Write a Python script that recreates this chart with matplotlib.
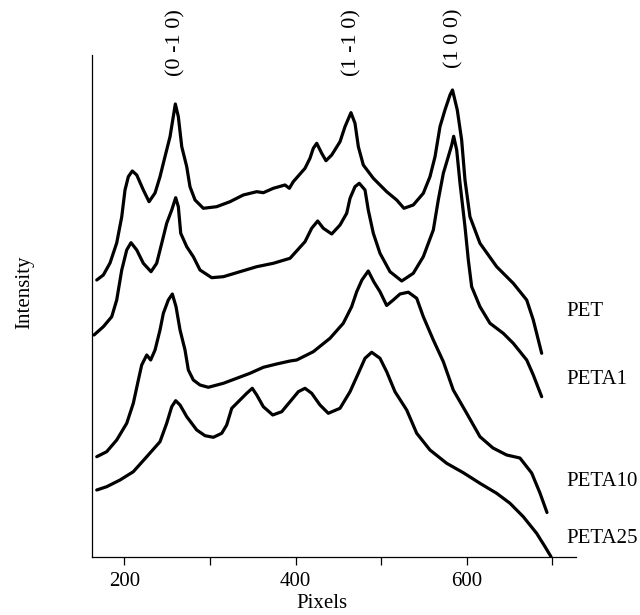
import matplotlib
matplotlib.use("Agg")
import matplotlib.pyplot as plt

plt.rcParams['font.family'] = ['Liberation Serif', 'DejaVu Serif']

# ---- data (x in pixels, y intensity, arbitrary units) ----
pet_x = [167.8, 175.5, 183.3, 191.1, 197.0, 200.8, 204.7, 209.3, 214.5, 222.2, 228.9, 235.9,
         241.7, 247.5, 253.4, 257.2, 259.6, 263.1, 267.1, 272.9, 276.7, 282.6, 292.3, 307.9,
         323.5, 339.0, 354.7, 362.4, 374.1, 387.7, 392.8, 397.4, 411.1, 416.9, 420.8, 424.8,
         430.6, 435.6, 442.3, 452.0, 457.8, 464.8, 469.5, 473.4, 479.2, 490.9, 506.5, 518.2,
         526.7, 537.6, 549.3, 557.1, 563.0, 568.8, 574.6, 580.5, 583.4, 589.0, 594.1, 598.0,
         603.8, 615.5, 635.0, 654.4, 670.1, 677.8, 687.6]
pet_y = [276.7, 281.7, 293.7, 313.7, 340, 366.7, 380, 385.7, 381.7, 366.7, 355, 363.7,
         380, 400, 420, 440, 452.7, 440, 410, 390, 370, 356.7, 348.4, 350,
         355, 361.7, 365, 364, 368.4, 371.7, 368.4, 375, 388.4, 398.4, 408.4, 413.4,
         403.4, 396, 401.7, 415, 430, 444, 433.4, 410, 391.7, 378.4, 365, 356.7,
         348.4, 351.7, 363.4, 380, 400, 430, 446.7, 461.7, 466.7, 446.7, 416.7, 376.7,
         340, 313.4, 290, 273.4, 256.7, 236.7, 203.4]

peta1_x = [164.6, 175.5, 185.3, 191.1, 197.0, 202.8, 207.8, 214.5, 222.2, 231.2, 237.8, 243.7,
           249.5, 255.4, 260.0, 263.1, 265.9, 272.9, 280.6, 288.4, 302.1, 315.7, 335.2, 354.7,
           374.1, 393.6, 411.1, 418.9, 425.9, 432.5, 442.3, 452.0, 459.8, 463.7, 469.5, 474.5,
           481.2, 485.0, 490.9, 498.7, 510.4, 524.1, 537.6, 549.3, 561.0, 566.8, 572.7, 578.5,
           582.5, 584.8, 588.3, 592.2, 598.0, 601.9, 605.8, 615.5, 627.2, 642.7, 654.4, 670.1,
           677.8, 687.6]
peta1_y = [221.7, 230, 240, 256.7, 286.7, 306.7, 314, 306.7, 293.4, 285, 293.4, 313.4,
           333.4, 346.7, 359, 350, 323.4, 310, 300, 286.7, 279, 280, 285, 290,
           293.4, 298.4, 315, 328.4, 335.7, 328.4, 322.7, 331.7, 343.4, 358.4, 370, 373.4,
           366.7, 346.7, 323.4, 303.4, 285, 275.7, 283.4, 300, 326.7, 356.7, 383.4, 400,
           411.7, 420.4, 406.7, 373.4, 330, 296.7, 270, 250, 233.4, 223.4, 213.4, 196.7,
           181.7, 160]

peta10_x = [167.8, 179.4, 191.1, 202.8, 210.5, 216.4, 220.3, 226.2, 230.8, 235.9, 241.7, 245.6,
            251.4, 256.1, 260.4, 265.1, 270.9, 274.8, 280.6, 288.4, 298.1, 315.7, 331.3, 346.8,
            362.4, 378.0, 393.6, 401.4, 420.8, 440.3, 455.8, 465.6, 471.5, 477.6, 485.0, 491.6,
            498.7, 506.5, 514.2, 522.1, 531.8, 541.6, 549.3, 561.0, 572.7, 584.3, 600.0, 615.5,
            630.7, 646.7, 662.2, 675.9, 685.6, 693.8]
peta10_y = [100, 105, 116.7, 133.4, 153.4, 176.7, 191.7, 201.7, 196.7, 206.7, 226.7, 243.4,
            256.7, 262.7, 250, 226.7, 206.7, 186.7, 176.7, 171.7, 169.4, 173.4, 178.4, 183.4,
            189.4, 192.7, 195.7, 196.7, 205, 218.4, 233.4, 250, 265, 276.7, 285.7, 274.7,
            265, 251.2, 256.7, 262.7, 264.5, 258.4, 240, 216.7, 195, 166.7, 143.4, 120,
            108.7, 101.7, 98.7, 83.7, 63.7, 44.2]

peta25_x = [167.8, 179.4, 195.0, 210.5, 226.2, 241.7, 249.5, 255.4, 260.0, 265.1, 272.9, 284.6,
            294.3, 304.0, 313.8, 319.6, 325.5, 333.2, 343.0, 349.5, 354.7, 362.4, 373.4, 383.9,
            393.6, 403.3, 411.1, 418.9, 428.6, 438.3, 452.0, 463.7, 473.4, 481.2, 489.0, 498.7,
            506.5, 516.2, 529.9, 541.6, 557.1, 576.6, 596.0, 615.5, 635.0, 650.6, 666.1, 681.7,
            691.5, 698.5]
peta25_y = [66.7, 70, 76.7, 85, 100, 115, 133.4, 150, 156, 151.7, 140, 126.7,
            121, 119.4, 123.4, 131.7, 148.4, 155, 163.4, 168.4, 161.7, 150, 141.7, 145,
            155, 165, 168.4, 163.4, 151.7, 143.4, 148.4, 165, 183.4, 198.4, 204.4, 198.4,
            185, 165, 146.7, 123.4, 106.7, 93.4, 84, 73.4, 63.4, 53.4, 40, 23.4,
            10, 0]

series_names = ['PET', 'PETA1', 'PETA10', 'PETA25']
label_y = [245, 177, 75, 18]
label_x = 716

peak_labels = ['(0 -1 0)', '(1 -1 0)', '(1 0 0)']
peak_x = [260, 466, 585]

xticks = [200, 300, 400, 500, 600, 700]
xtick_labels = ['200', '', '400', '', '600', '']

# ---- figure ----
fig = plt.figure(figsize=(6.4, 6.15), dpi=100)
ax = fig.add_axes([0.1433, 0.0948, 0.7567, 0.8158])

for xs, ys in [(pet_x, pet_y), (peta1_x, peta1_y), (peta10_x, peta10_y), (peta25_x, peta25_y)]:
    ax.plot(xs, ys, color='black', lw=2.3, solid_joinstyle='round', solid_capstyle='round')

ax.set_xlim(161.9, 727.7)
ax.set_ylim(0, 501.7)

for spine in ['top', 'right']:
    ax.spines[spine].set_visible(False)
ax.spines['left'].set_linewidth(0.9)
ax.spines['bottom'].set_linewidth(0.9)

ax.set_xticks(xticks)
ax.set_xticklabels(xtick_labels)
ax.tick_params(axis='x', direction='out', length=6, width=0.9, labelsize=15, pad=5)
ax.set_yticks([])

for name, ly in zip(series_names, label_y):
    ax.text(label_x, ly, name, fontsize=15, ha='left', va='center', clip_on=False)

for lab, px in zip(peak_labels, peak_x):
    ax.text(px, 548, lab, fontsize=16, rotation=90, ha='center', va='top', clip_on=False)

fig.text(322 / 640, 1 - 603 / 615, 'Pixels', fontsize=15, ha='center', va='center')
fig.text(25 / 640, 1 - 292 / 615, 'Intensity', fontsize=15, ha='center', va='center', rotation=90)

fig.savefig('out.png', dpi=100)
